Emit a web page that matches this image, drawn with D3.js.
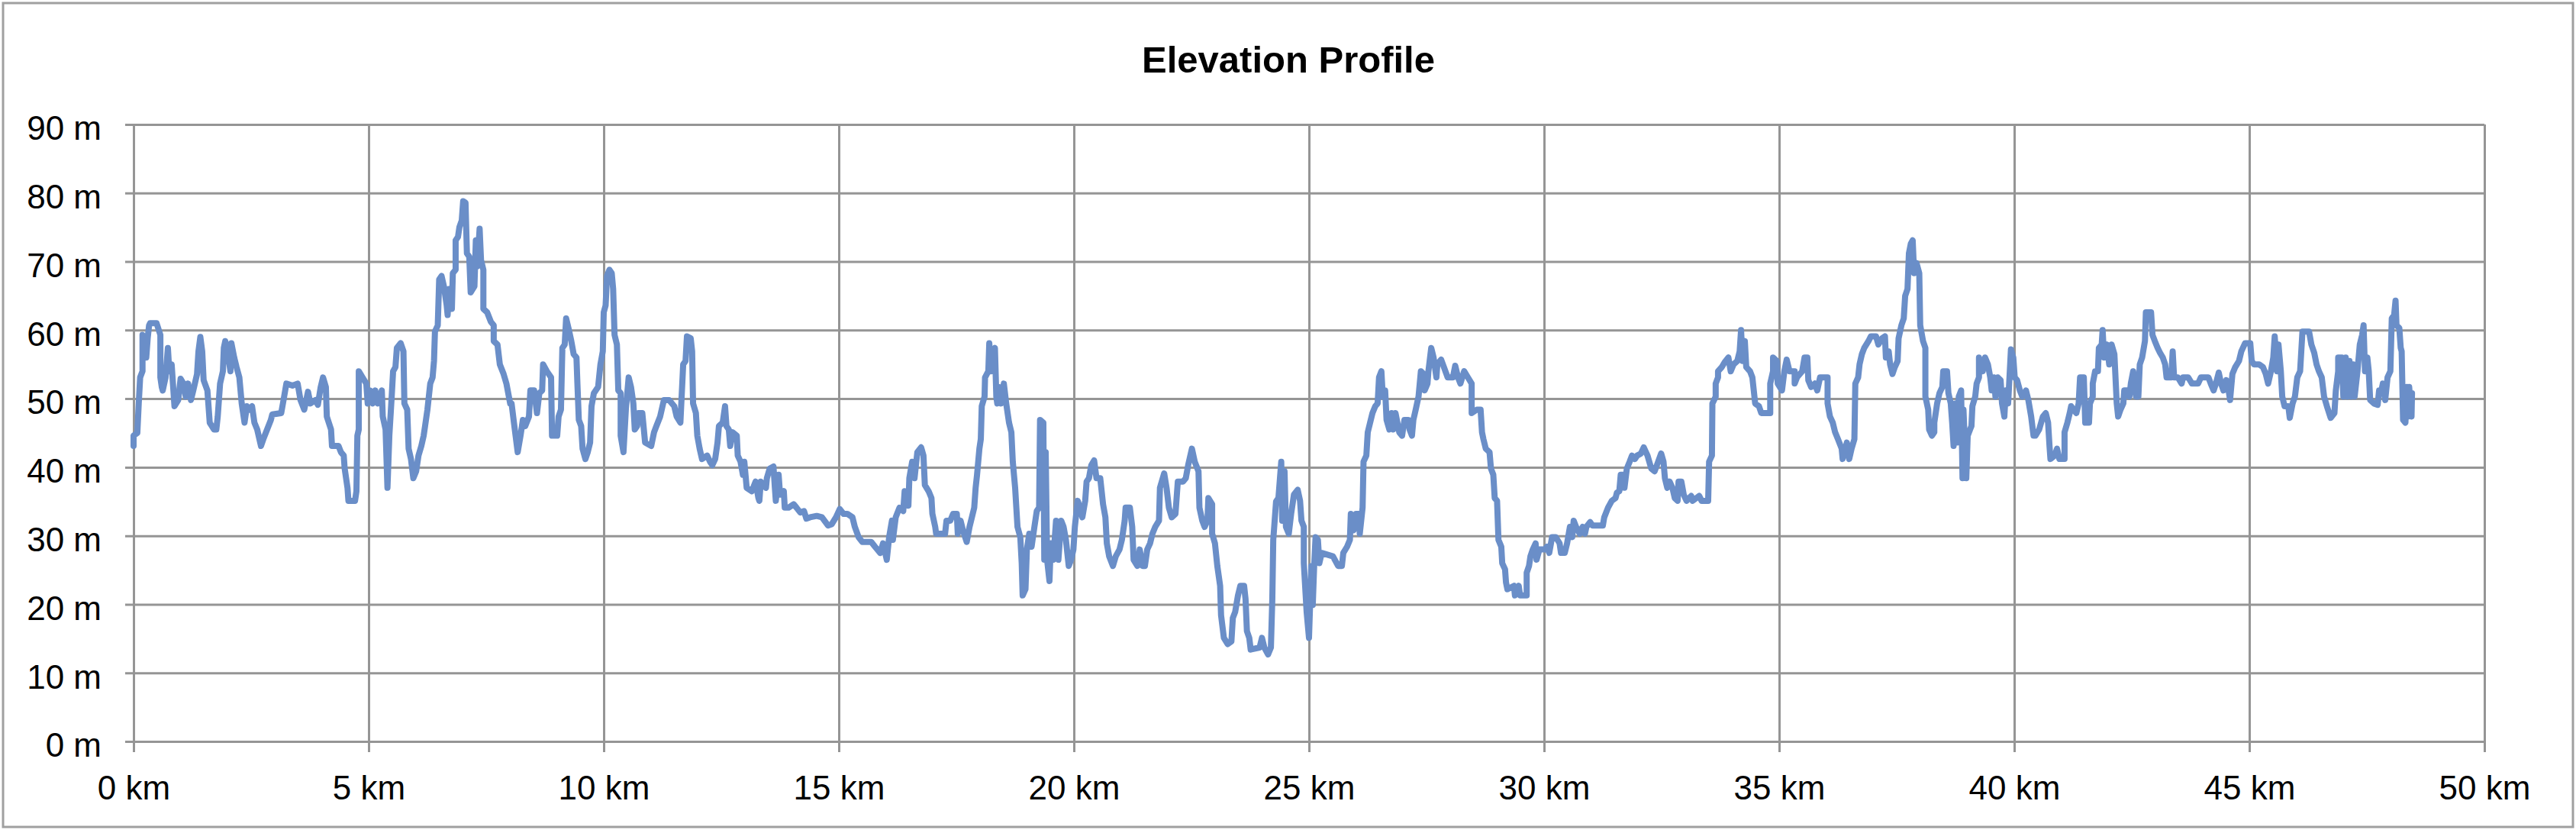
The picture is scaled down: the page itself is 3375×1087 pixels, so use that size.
<!DOCTYPE html>
<html lang="en">
<head>
<meta charset="utf-8">
<title>Elevation Profile</title>
<script src="https://cdn.jsdelivr.net/npm/d3@7"></script>
<style>
  body { margin: 0; background: #fff; }
  text { font-family: "Liberation Sans", Arial, sans-serif; fill: #000; }
</style>
</head>
<body>
<script>
// distance along route (km) and elevation (m)
var distKm = [
  0,0,0.08,0.11,0.14,0.19,0.19,0.245,0.27,0.3,0.33,0.35,0.49,0.57,0.57,0.6,0.62,0.68,0.73,0.76,0.81,0.87,0.95,1.0,1.06,1.11,1.16,1.22,1.27,1.35,1.38,1.42,1.46,1.49,1.57,1.62,1.71,1.76,1.79,1.84,1.9,1.92,1.95,2.0,2.06,2.08,2.14,2.19,2.25,2.3,2.36,2.41,2.46,2.52,2.57,2.63,2.71,2.76,2.84,2.92,2.95,3.14,3.19,3.25,3.38,3.49,3.55,3.63,3.71,3.76,3.87,3.92,3.98,4.03,4.09,4.11,4.2,4.22,4.36,4.41,4.47,4.49,4.55,4.57,4.71,4.74,4.76,4.79,4.79,4.87,4.95,4.98,5.03,5.09,5.14,5.2,5.28,5.3,5.36,5.4,5.44,5.49,5.52,5.57,5.6,5.68,5.74,5.76,5.82,5.85,5.9,5.95,6.01,6.06,6.12,6.17,6.2,6.25,6.31,6.36,6.39,6.41,6.47,6.5,6.55,6.6,6.66,6.68,6.71,6.77,6.79,6.85,6.85,6.9,6.93,6.98,7.01,7.06,7.09,7.14,7.17,7.25,7.28,7.31,7.36,7.39,7.44,7.44,7.52,7.6,7.66,7.66,7.74,7.79,7.87,7.93,8.01,
  8.04,8.09,8.17,8.23,8.28,8.33,8.41,8.44,8.52,8.58,8.63,8.69,8.71,8.79,8.88,8.9,9.01,9.04,9.09,9.12,9.17,9.2,9.25,9.31,9.36,9.42,9.44,9.47,9.52,9.55,9.61,9.66,9.71,9.74,9.79,9.88,9.93,9.98,10.0,10.04,10.07,10.12,10.17,10.2,10.23,10.28,10.31,10.36,10.36,10.42,10.47,10.53,10.58,10.63,10.66,10.71,10.74,10.82,10.88,11.01,11.07,11.12,11.2,11.28,11.39,11.5,11.55,11.63,11.69,11.74,11.77,11.85,11.88,11.9,11.96,11.99,12.04,12.09,12.2,12.26,12.31,12.37,12.42,12.45,12.53,12.58,12.61,12.66,12.69,12.74,12.83,12.85,12.91,12.96,12.99,13.04,13.15,13.23,13.29,13.31,13.34,13.45,13.47,13.53,13.61,13.64,13.66,13.72,13.75,13.83,13.85,13.93,14.04,14.1,14.18,14.26,14.31,14.39,14.53,14.64,14.77,14.85,14.94,15.02,15.1,15.18,15.29,15.34,15.42,15.5,15.69,15.77,15.88,15.94,16.02,16.07,16.13,
  16.15,16.21,16.29,16.37,16.4,16.48,16.5,16.56,16.61,16.67,16.75,16.8,16.83,16.91,16.97,16.99,17.05,17.07,17.26,17.29,17.37,17.43,17.51,17.53,17.59,17.64,17.72,17.78,17.83,17.88,17.91,17.94,17.99,18.02,18.04,18.1,18.11,18.18,18.2,18.24,18.29,18.32,18.35,18.37,18.4,18.45,18.51,18.56,18.62,18.67,18.7,18.75,18.8,18.86,18.89,18.91,18.97,19.0,19.05,19.1,19.16,19.21,19.26,19.28,19.35,19.37,19.4,19.43,19.48,19.51,19.56,19.62,19.67,19.73,19.78,19.83,19.89,19.94,19.99,20.02,20.08,20.13,20.18,20.24,20.27,20.32,20.37,20.43,20.48,20.56,20.62,20.67,20.7,20.75,20.83,20.89,20.97,21.02,21.08,21.1,21.19,21.24,21.27,21.35,21.4,21.46,21.51,21.56,21.62,21.67,21.73,21.81,21.83,21.92,21.97,22.02,22.08,22.16,22.21,22.32,22.38,22.43,22.51,22.57,22.65,22.67,22.73,22.78,22.84,22.86,22.94,22.94,23.0,23.05,23.11,23.13,23.19,23.27,23.35,23.38,23.43,23.49,23.54,23.62,23.65,23.68,23.73,23.76,23.95,24.0,24.05,24.13,24.19,24.22,24.24,
  24.3,24.35,24.41,24.43,24.48,24.51,24.57,24.62,24.68,24.76,24.81,24.84,24.89,24.89,24.95,25.0,25.05,25.08,25.11,25.14,25.19,25.22,25.27,25.51,25.62,25.7,25.73,25.81,25.87,25.89,25.95,26.0,26.06,26.08,26.14,26.16,26.22,26.25,26.3,26.35,26.41,26.46,26.49,26.54,26.57,26.62,26.65,26.71,26.76,26.79,26.84,26.92,26.98,27.03,27.11,27.14,27.19,27.22,27.27,27.33,27.38,27.44,27.46,27.52,27.54,27.6,27.65,27.71,27.73,27.81,27.87,27.95,28.06,28.11,28.17,28.22,28.3,28.38,28.46,28.46,28.57,28.65,28.68,28.71,28.76,28.84,28.87,28.92,28.95,29.0,29.03,29.09,29.11,29.17,29.19,29.22,29.36,29.38,29.46,29.49,29.63,29.63,29.68,29.71,29.76,29.82,29.84,29.9,30.01,30.06,30.11,30.17,30.25,30.33,30.36,30.44,30.49,30.55,30.6,30.63,30.68,30.76,30.82,30.87,30.9,30.98,31.03,31.25,31.28,31.36,31.44,31.52,31.55,31.6,31.63,31.68,31.71,31.76,31.82,31.87,31.93,31.98,32.06,32.12,32.2,32.28,
  32.35,32.4,32.49,32.54,32.57,32.62,32.67,32.73,32.78,32.84,32.86,32.92,32.97,33.03,33.13,33.16,33.3,33.35,33.49,33.51,33.57,33.58,33.65,33.65,33.7,33.7,33.78,33.84,33.92,33.97,34.03,34.11,34.16,34.19,34.22,34.27,34.3,34.38,34.43,34.49,34.57,34.62,34.81,34.81,34.87,34.87,34.95,34.97,35.06,35.11,35.16,35.22,35.33,35.33,35.38,35.49,35.54,35.6,35.62,35.68,35.76,35.81,35.87,36.03,36.03,36.08,36.14,36.19,36.25,36.33,36.35,36.44,36.49,36.54,36.6,36.62,36.68,36.71,36.76,36.81,36.9,36.95,37.06,37.11,37.19,37.25,37.27,37.33,37.36,37.41,37.46,37.52,37.54,37.6,37.65,37.68,37.73,37.76,37.8,37.84,37.87,37.92,37.98,38.0,38.06,38.11,38.11,38.17,38.19,38.25,38.3,38.3,38.36,38.41,38.47,38.49,38.57,38.6,38.65,38.68,38.71,38.74,38.79,38.82,38.87,38.9,38.92,38.98,39.01,39.06,39.09,39.11,39.17,39.2,39.25,39.25,39.33,39.38,39.44,39.49,39.52,39.57,39.6,39.65,39.71,39.74,39.79,39.82,39.87,39.93,39.98,40.01,40.06,40.12,40.17,40.25,40.3,40.36,40.41,
  40.45,40.53,40.61,40.67,40.72,40.75,40.77,40.86,40.91,40.96,41.07,41.07,41.13,41.18,41.21,41.26,41.32,41.37,41.4,41.48,41.51,41.59,41.61,41.67,41.67,41.72,41.78,41.8,41.86,41.88,41.91,41.97,42.02,42.07,42.13,42.18,42.21,42.26,42.32,42.34,42.4,42.45,42.48,42.53,42.59,42.64,42.67,42.72,42.78,42.8,42.91,42.94,42.99,43.05,43.1,43.16,43.21,43.24,43.34,43.37,43.4,43.48,43.56,43.59,43.7,43.78,43.91,43.97,44.13,44.18,44.24,44.29,44.35,44.4,44.45,44.51,44.56,44.59,44.64,44.7,44.78,44.83,44.91,45.02,45.05,45.1,45.21,45.29,45.35,45.4,45.46,45.51,45.54,45.59,45.62,45.67,45.7,45.75,45.83,45.86,45.92,45.97,46.02,46.08,46.13,46.27,46.32,46.38,46.43,46.48,46.54,46.59,46.65,46.73,46.81,46.84,46.89,46.89,46.97,47.0,47.05,47.08,47.13,47.16,47.21,47.24,47.3,47.35,47.4,47.43,47.46,47.51,47.54,47.57,47.65,47.73,47.76,47.81,47.84,47.89,47.94,48.0,48.03,48.08,48.11,48.13,48.19,48.22,48.24,48.27,48.32,48.35,48.38,48.4,48.45,48.46
];
var elevM = [
  43.1,44.6,45,49.3,53.1,54,59.3,58.8,56,58.8,60.7,61,61,59.3,53.1,51.7,51.2,53.1,57.4,54,55,48.9,49.8,52.9,52.2,50.3,52.2,49.8,51.2,53.6,56.9,59,56.9,52.7,51.2,46.5,45.5,45.5,47.4,52.2,54,57.4,58.4,56.9,54,58.1,56,54.6,53.1,49.3,46.5,48.9,48.4,48.9,46.5,45.5,43.1,44.1,45.5,46.9,47.7,47.9,49.8,52.2,51.9,52.2,49.8,48.4,51,49.3,49.8,49.1,51.7,53.1,51.7,47.4,45.5,43.1,43.1,42.2,41.7,39.8,37,35.1,35.1,36.5,44.6,45.5,54,53.1,52.2,49.3,51.2,49.3,51.2,49.3,51.2,47.4,45.5,37,44.6,50.3,54,54.6,57.4,58.1,56.9,49.3,48.4,42.7,41.2,38.4,39.4,41.7,43.1,44.6,46,48.4,52.2,53.1,55.5,59.8,60.7,67.4,67.9,66.4,63.6,62.2,66,63.1,68.3,68.8,73.1,73.6,75,76,78.8,78.6,71.2,70.7,65.5,66.4,73.1,69.3,74.8,70.2,68.8,63.1,62.6,61.2,60.7,58.4,57.9,55,53.6,52.2,49.3,
  49.3,46.5,42.2,44.6,46.9,46,47.4,51.2,51.2,47.9,50.8,51.2,55,54,53.1,44.6,44.6,47.4,48.4,57.4,57.9,61.7,60.3,58.4,56.5,56,52.2,46.9,46,42.7,41.2,42.2,43.6,48.9,50.8,51.7,55,56.9,62.6,63.6,67.9,68.8,68.3,66,59.3,57.9,51.2,50.8,44.6,42.2,48.4,53.1,51.7,49.3,45.5,46,47.9,47.9,43.6,43.1,45.1,46,47.4,49.8,49.8,48.9,47.4,46.5,55,55.5,59.1,58.8,56.9,49.3,47.9,44.6,42.7,41.2,41.7,40.8,40.3,41.2,43.6,46,46.5,48.9,46,45.5,43.1,45.1,44.6,41.7,40.8,38.9,40.8,37,36.5,37.9,35.5,35.1,37.9,37,38.4,39.8,40.1,37,35.1,38.9,36,36.5,34.1,34.1,34.6,34.1,33.4,33.6,32.5,32.7,32.9,32.7,31.5,31.7,32.7,33.9,33.2,33.2,32.7,31.3,29.8,29.1,29.1,28.4,27.5,28.9,26.5,29.8,32.2,
  29.4,32.7,34.1,33.6,36.5,34.4,38.4,40.8,38.4,42.2,42.9,41.7,37.4,36.5,35.5,33.2,31.3,30.3,30.3,32.2,32.2,33.2,33.2,30.3,32.2,30.8,29.1,31.3,32.7,34.1,37,38.9,42.7,44.1,48.9,50.3,53.1,54,58.1,54,56.9,57.4,50.3,49.3,51.7,49.3,52.2,49.3,46.5,45.1,40.8,37,31.3,29.8,26,21.3,22.2,28,30.3,28.4,31.3,33.6,34.1,46.9,46.5,26.5,42.2,26.5,23.4,28.9,26.5,32.2,26.5,32.2,31.3,29.4,25.6,26.5,28,31.3,35.1,34.1,32.7,35.1,37.9,38.4,40.3,41,38.4,38.4,34.6,32.7,28.9,27,25.6,27,28,29.4,32.2,34.1,34.1,31.3,26.5,25.6,28,25.6,25.6,28,28.9,30.3,31.3,32.2,37,39.1,37,34.1,32.7,33.2,37.9,37.9,38.4,40.3,42.7,40.8,39.4,34.1,32.2,31.3,32.2,35.5,34.6,30.3,28.9,25.6,22.7,18.4,15.1,14.2,14.6,18,18.9,21.3,22.7,22.7,20.8,16.1,15.1,13.4,13.7,15.1,13.7,12.7,13.7,20.8,29.4,
  35,35.5,40.8,32.2,39.4,31.3,30.3,33.2,36,36.7,35.1,32.2,31.3,26,18.9,15.1,25.6,19.9,25.6,29.8,29.4,26,27.5,27,25.6,25.6,27.5,28.4,29.4,33.2,30.8,33.2,33.2,30.3,34.1,40.8,41.7,45.1,46.5,47.9,48.9,49.3,53.1,54,50.3,51.2,46.9,45.5,47.9,45.5,47.9,45.1,44.6,46.9,46.9,45.5,44.6,46.9,48.4,50.3,54,53.6,51.2,52.2,54,57.4,56,53.1,55,55.7,54.6,53.1,53.1,54.8,53.1,52.2,54,53.1,52.2,47.9,48.4,48.4,45.1,44.1,42.7,42.2,39.8,38.9,35.5,35.1,29.4,28.4,26,25.1,23.2,22.2,22.7,21.3,22.7,21.3,21.3,24.6,25.6,27,28,28.9,26.5,28,28,28.4,27.5,29.8,29.8,28.9,27.5,27.5,28.9,31.3,29.8,32.2,31.3,30.3,31.3,30.3,31.3,32,31.5,31.5,32.7,34.1,35.1,35.5,36.3,36.5,38.9,38.9,37,39.8,40.8,41.7,41.2,41.7,42,42.9,41.7,39.8,
  39.4,40.3,42,40.8,38.4,37,37.9,37,35.5,35.1,37.9,37.9,36,35.1,35.8,35.1,35.8,35.1,35.1,40.8,41.7,49.3,50.3,52.2,53.1,54,54.6,55.3,56,54,55,55.5,56.9,60,55.5,58.4,54.6,54,53.1,49.3,48.9,47.9,47.9,52.2,54,56,55.5,52.2,51.2,54,55.7,54,54,52.2,53.1,54,56,56,52.7,51.7,52.2,51.2,53.1,53.1,49.3,47.4,46.5,45.1,44.1,42.7,41.2,43.6,41.2,42.7,44.1,52.2,53.1,55,56.5,57.4,58.4,59.1,59.1,57.9,58.8,59.1,56,56.9,55,53.6,54.6,55.5,58.8,60.7,61.7,65,66,71.2,72.6,73.1,68.3,69.8,68.3,60.7,58.4,57.4,50.3,48.4,45.5,44.6,45.1,46.5,49.3,50.8,51.7,54,54,50.8,49.3,46.5,43.1,49.3,43.6,50.3,51.2,38.4,48.4,38.4,44.6,45.5,46,48.9,50.3,52.2,53.1,56,54,56,55,53.1,51.2,53.1,50.3,53.1,52.7,49.3,47.4,51.2,49.3,57.2,56,53.1,52.7,51.2,50.3,51.2,49.8,47.4,44.6,
  44.6,45.5,47.4,47.9,46.5,43.1,41.2,41.7,42.7,41.2,41.2,45.1,46.5,47.9,48.9,48.4,47.9,49.3,53.1,53.1,46.5,46.5,49.3,50.3,52.2,54,54,57.4,57.9,60,56,57.9,55,57.9,56.5,49.3,47.4,48.4,49.3,51.2,51.2,50.3,52.2,54,50.3,50.3,55,56,58.4,62.6,62.6,59.3,58.4,57.4,56.7,56,55,53.1,53.1,56.9,53.1,53.1,52.2,53.1,53.1,52.2,52.2,53.1,53.1,52.2,51.2,52.2,53.8,52.2,51.2,52.7,51.2,49.8,53.6,54.6,55.5,56.9,58.1,58.1,55.5,55,55,54.6,53.6,52.2,54,56,59.1,54,57.9,54,50.3,48.9,48.9,47.2,49.3,50.3,53.1,54,59.8,59.8,57.9,56.7,55,54,53.1,50.3,48.9,47.2,47.9,51.2,54,56,56,50.3,56,50.3,55.5,50.3,55,50.3,54,57.9,59.3,60.7,54,56,54,49.8,49.3,49.1,51.2,51.2,52.2,49.8,53.1,54,61.7,62.2,64.3,60.7,60.3,57.4,56.9,46.9,46.5,51.7,47.4,51.7,47.4,50.8
];
var xTicks = [0, 5, 10, 15, 20, 25, 30, 35, 40, 45, 50];
var yTicks = [0, 10, 20, 30, 40, 50, 60, 70, 80, 90];
var chartTitle = "Elevation Profile";

var W = 3375, H = 1087;
var margin = {top: 163, left: 175, right: 120, bottom: 116};
var plotW = W - margin.left - margin.right;
var plotH = H - margin.top - margin.bottom;
var gridColor = "#959595";

var svg = d3.select("body").append("svg")
    .attr("width", W)
    .attr("height", H);

// outer chart border
svg.append("rect")
    .attr("x", 4).attr("y", 4)
    .attr("width", W - 8).attr("height", H - 8)
    .attr("fill", "#fff")
    .attr("stroke", "#a0a0a0")
    .attr("stroke-width", 3);

svg.append("text")
    .attr("x", 1688)
    .attr("y", 95)
    .attr("text-anchor", "middle")
    .style("font-size", "49px")
    .style("font-weight", "bold")
    .text(chartTitle);

var x = d3.scaleLinear().domain([0, 50]).range([0, plotW]);
var y = d3.scaleLinear().domain([0, 90]).range([plotH, 0]);

var g = svg.append("g")
    .attr("transform", "translate(" + margin.left + "," + margin.top + ")");

// y axis + horizontal gridlines
var gY = g.append("g")
    .call(d3.axisLeft(y)
        .tickValues(yTicks)
        .tickSize(-plotW)
        .tickSizeOuter(0)
        .tickPadding(42)
        .tickFormat(function(d) { return d + " m"; }));
gY.selectAll(".tick line").attr("x1", -11);
gY.selectAll(".tick text").attr("dy", "0.45em").style("font-size", "44px");

// x axis + vertical gridlines
var gX = g.append("g")
    .attr("transform", "translate(0," + plotH + ")")
    .call(d3.axisBottom(x)
        .tickValues(xTicks)
        .tickSize(-plotH)
        .tickSizeOuter(0)
        .tickFormat(function(d) { return d + " km"; }));
gX.selectAll(".tick line").attr("y1", 14);
gX.selectAll(".tick text").attr("y", 45).attr("dy", "0.71em").style("font-size", "44px");

svg.selectAll(".domain").attr("stroke", gridColor).attr("stroke-width", 3);
svg.selectAll(".tick line").attr("stroke", gridColor).attr("stroke-width", 3);
svg.selectAll(".tick text").style("font-family", "'Liberation Sans', Arial, sans-serif").attr("fill", "#000");

var line = d3.line()
    .x(function(d, i) { return x(distKm[i]); })
    .y(function(d) { return y(d); });

g.append("path")
    .datum(elevM)
    .attr("d", line)
    .attr("fill", "none")
    .attr("stroke", "#6a8ec8")
    .attr("stroke-width", 8)
    .attr("stroke-linejoin", "round")
    .attr("stroke-linecap", "round");
</script>
</body>
</html>
